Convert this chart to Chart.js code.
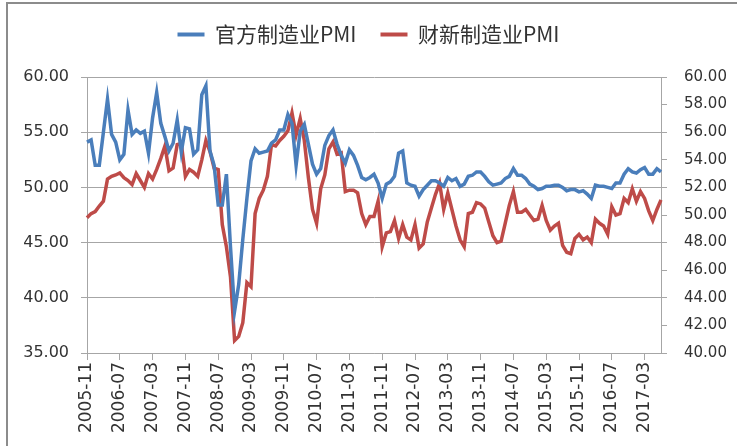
<!DOCTYPE html>
<html>
<head>
<meta charset="utf-8">
<script src="https://cdn.jsdelivr.net/npm/chart.js@4.4.1/dist/chart.umd.min.js"></script>
<style>
  html, body { margin: 0; padding: 0; background: #fff; overflow: hidden; }
  #wrap { position: relative; width: 737px; height: 446px; }
  #frame { position: absolute; left: 6px; top: 2px; width: 800px; height: 500px; border: 2px solid #8c8c8c; pointer-events: none; }
  canvas { position: absolute; left: 0; top: 0; }
</style>
</head>
<body>
<div id="wrap">
  <canvas id="pmiChart" width="737" height="446"></canvas>
  <div id="frame"></div>
</div>
<script>
// months from 2005-11 to 2017-07
const startYear = 2005, startMonth = 11, monthCount = 141;
const months = [];
for (let i = 0; i < monthCount; i++) {
    const k = startMonth - 1 + i;
    months.push(`${startYear + Math.floor(k / 12)}-${String(k % 12 + 1).padStart(2, "0")}`);
}

// 官方制造业PMI (left axis)
const officialPMI = [
    54.1, 54.3,
    52.0, 52.0, 55.0, 58.0, 54.8, 54.1, 52.5, 53.0, 57.0, 54.8, 55.2, 54.9,
    55.1, 53.1, 56.3, 58.6, 55.8, 54.6, 53.3, 54.0, 56.1, 53.2, 55.4, 55.3,
    53.0, 53.4, 58.4, 59.2, 53.3, 52.0, 48.4, 48.4, 51.2, 44.6, 38.8, 41.2,
    45.3, 49.0, 52.4, 53.5, 53.1, 53.2, 53.3, 54.0, 54.3, 55.2, 55.2, 56.6,
    55.8, 52.0, 55.1, 55.7, 53.9, 52.1, 51.2, 51.7, 53.8, 54.7, 55.2, 53.9,
    52.9, 52.2, 53.4, 52.9, 52.0, 50.9, 50.7, 50.9, 51.2, 50.4, 49.0, 50.3,
    50.5, 51.0, 53.1, 53.3, 50.4, 50.2, 50.1, 49.2, 49.8, 50.2, 50.6, 50.6,
    50.4, 50.1, 50.9, 50.6, 50.8, 50.1, 50.3, 51.0, 51.1, 51.4, 51.4, 51.0,
    50.5, 50.2, 50.3, 50.4, 50.8, 51.0, 51.7, 51.1, 51.1, 50.8, 50.3, 50.1,
    49.8, 49.9, 50.1, 50.1, 50.2, 50.2, 50.0, 49.7, 49.8, 49.8, 49.6, 49.7,
    49.4, 49.0, 50.2, 50.1, 50.1, 50.0, 49.9, 50.4, 50.4, 51.2, 51.7, 51.4,
    51.3, 51.6, 51.8, 51.2, 51.2, 51.7, 51.4
];

// 财新制造业PMI (right axis)
const caixinPMI = [
    49.8, 50.1,
    50.25, 50.65, 51.0, 52.6, 52.8, 52.9, 53.05, 52.7, 52.5, 52.2, 53.0, 52.5,
    52.0, 53.0, 52.6, 53.3, 54.1, 55.0, 53.2, 53.4, 55.1, 55.2, 52.8, 53.3,
    53.1, 52.8, 54.0, 55.4, 54.6, 53.4, 53.3, 49.3, 47.7, 45.5, 40.9, 41.2,
    42.2, 45.1, 44.8, 50.1, 51.2, 51.8, 52.8, 55.1, 55.0, 55.4, 55.7, 56.1,
    57.4, 55.8, 57.0, 55.4, 52.7, 50.4, 49.4, 51.9, 52.9, 54.8, 55.3, 54.4,
    54.5, 51.7, 51.8, 51.8, 51.6, 50.1, 49.3, 49.9, 49.9, 51.0, 47.7, 48.7,
    48.8, 49.6, 48.3, 49.3, 48.4, 48.2, 49.3, 47.6, 47.9, 49.5, 50.5, 51.5,
    52.3, 50.4, 51.6, 50.4, 49.2, 48.2, 47.7, 50.1, 50.2, 50.9, 50.8, 50.5,
    49.5, 48.5, 48.0, 48.1, 49.4, 50.7, 51.7, 50.2, 50.2, 50.4, 50.0, 49.6,
    49.7, 50.7, 49.6, 48.9, 49.2, 49.4, 47.8, 47.3, 47.2, 48.3, 48.6, 48.2,
    48.4, 48.0, 49.7, 49.4, 49.2, 48.6, 50.6, 50.0, 50.1, 51.2, 50.9, 51.9,
    51.0, 51.7, 51.2, 50.3, 49.6, 50.4, 51.1
];

const leftTicks = { min: 35, max: 60, step: 5 };
const rightTicks = { min: 40, max: 60, step: 2 };
const labelEvery = 8;

const BLUE = '#4A7EBB';
const RED = '#BE4B48';
const GRID = '#a6a6a6';
const TEXT = '#333333';
const numFont = "'DejaVu Sans', sans-serif";

// give the legend some extra room below it
const legendSpacer = {
    id: 'legendSpacer',
    beforeInit(chart) {
        const fit = chart.legend.fit;
        chart.legend.fit = function () {
            fit.bind(chart.legend)();
            this.height += 22;
        };
    }
};

new Chart(document.getElementById('pmiChart'), {
    type: 'line',
    data: {
        labels: months,
        datasets: [
            {
                label: '官方制造业PMI',
                data: officialPMI,
                yAxisID: 'yL',
                borderColor: BLUE,
                backgroundColor: BLUE,
                borderWidth: 3.5,
                pointRadius: 0,
                tension: 0
            },
            {
                label: '财新制造业PMI',
                data: caixinPMI,
                yAxisID: 'yR',
                borderColor: RED,
                backgroundColor: RED,
                borderWidth: 3.5,
                pointRadius: 0,
                tension: 0
            }
        ]
    },
    plugins: [legendSpacer],
    options: {
        responsive: false,
        animation: false,
        layout: { padding: { top: 0, left: 0, right: 0, bottom: 0 } },
        plugins: {
            tooltip: { enabled: false },
            legend: {
                position: 'top',
                align: 'center',
                labels: {
                    boxWidth: 27,
                    boxHeight: 4,
                    padding: 24,
                    color: TEXT,
                    font: { family: "'Noto Sans CJK SC', sans-serif", size: 21 },
                    generateLabels: chart => Chart.defaults.plugins.legend.labels.generateLabels(chart)
                        .map(item => ({ ...item, lineWidth: 0 }))
                }
            }
        },
        scales: {
            x: {
                offset: false,
                border: { color: GRID, width: 1 },
                grid: { drawOnChartArea: false, color: GRID, tickLength: 7 },
                ticks: {
                    autoSkip: false,
                    maxRotation: 90,
                    minRotation: 90,
                    padding: 2,
                    color: TEXT,
                    font: { family: numFont, size: 17 },
                    callback: (v, i) => i % labelEvery === 0 ? months[i] : null
                },
                afterFit: scale => { scale.height = 93; }
            },
            yL: {
                position: 'left',
                min: leftTicks.min,
                max: leftTicks.max,
                border: { color: GRID, width: 1 },
                grid: { color: GRID, tickLength: 6 },
                ticks: {
                    stepSize: leftTicks.step,
                    padding: 12,
                    color: TEXT,
                    font: { family: numFont, size: 16 },
                    callback: v => Number(v).toFixed(2)
                },
                afterFit: scale => { scale.width = 87; }
            },
            yR: {
                position: 'right',
                min: rightTicks.min,
                max: rightTicks.max,
                border: { color: GRID, width: 1 },
                grid: { drawOnChartArea: false, color: GRID, tickLength: 6 },
                ticks: {
                    stepSize: rightTicks.step,
                    padding: 17,
                    color: TEXT,
                    font: { family: numFont, size: 15 },
                    callback: v => Number(v).toFixed(2)
                },
                afterFit: scale => { scale.width = 76; }
            }
        }
    }
});
</script>
</body>
</html>
